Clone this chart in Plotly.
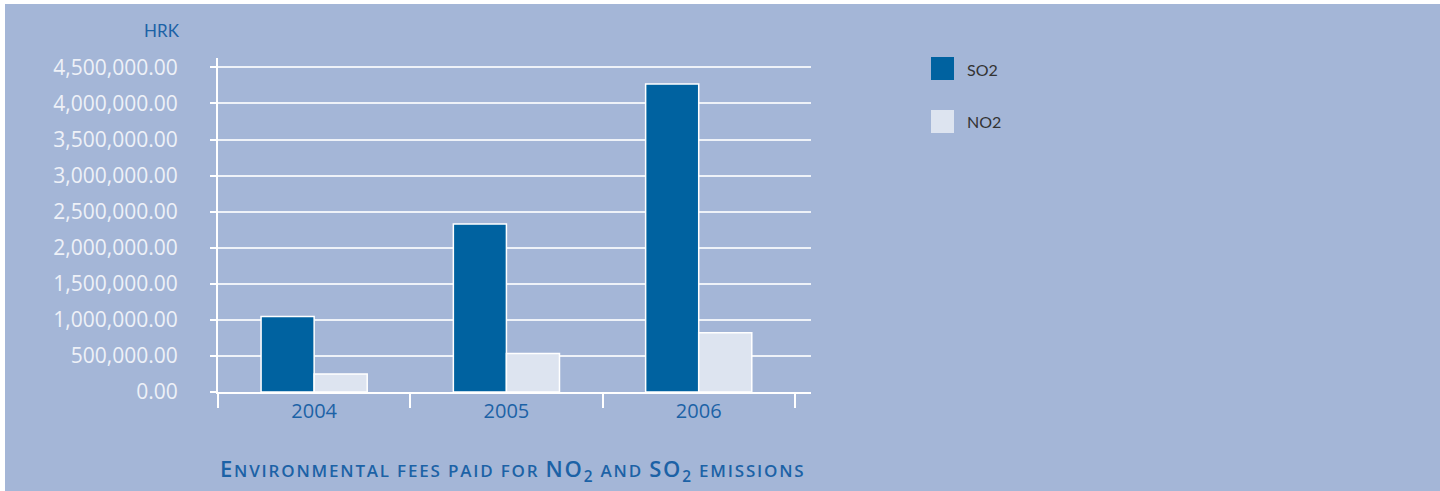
import plotly.graph_objects as go

years = ["2004", "2005", "2006"]
so2 = [1047000, 2330000, 4270000]
no2 = [250000, 535000, 820000]
series_names = ["SO2", "NO2"]
y_ticks = [0, 500000, 1000000, 1500000, 2000000, 2500000, 3000000, 3500000, 4000000, 4500000]

PANEL = "#a4b6d7"
SO2_C = "#0062a0"
NO2_C = "#dde4f0"
BLUE_TXT = "#1c62a6"
FONT = "Lato"
FONT2 = "Open Sans"

W, H = 1440, 491
L, R, T, B = 218, 1440 - 811, 58, 491 - 392
PW = W - L - R
PH = H - T - B

def px(x):
    return (x - L) / PW

def py(y):
    return (H - B - y) / PH

fig = go.Figure()
fig.add_trace(go.Bar(x=years, y=so2, name=series_names[0], marker=dict(color=SO2_C, line=dict(color="white", width=1.5))))
fig.add_trace(go.Bar(x=years, y=no2, name=series_names[1], marker=dict(color=NO2_C, line=dict(color="white", width=1.5))))

shapes = [
    dict(type="rect", xref="paper", yref="paper", x0=px(-10), x1=px(W + 10), y0=py(-10), y1=py(4),
         fillcolor="white", line=dict(width=0), layer="below"),
    dict(type="rect", xref="paper", yref="paper", x0=px(-10), x1=px(5), y0=py(-10), y1=py(H + 10),
         fillcolor="white", line=dict(width=0), layer="below"),
]
annotations = []
legend_items = [(series_names[0], SO2_C, 57), (series_names[1], NO2_C, 110)]
for name, col, top in legend_items:
    shapes.append(dict(type="rect", xref="paper", yref="paper", x0=px(931), x1=px(954), y0=py(top + 23), y1=py(top),
                       fillcolor=col, line=dict(width=0)))
    annotations.append(dict(xref="paper", yref="paper", x=px(965), y=py(top + 12), text=name, showarrow=False,
                            xanchor="left", yanchor="middle", font=dict(family=FONT, size=16, color="#333333")))

annotations.append(dict(xref="paper", yref="paper", x=px(182), y=py(30), text="HRK", showarrow=False,
                        xanchor="right", yanchor="middle", font=dict(family=FONT, size=17, color=BLUE_TXT)))

big, small = 22, 17
sp = "letter-spacing:1.8px"
title = (f'<span style="font-size:{big}px;{sp}">E</span><span style="font-size:{small}px;{sp}">NVIRONMENTAL FEES PAID FOR </span>'
         f'<span style="font-size:{big}px;{sp}">NO<sub>2</sub></span><span style="font-size:{small}px;{sp}"> AND </span>'
         f'<span style="font-size:{big}px;{sp}">SO<sub>2</sub></span><span style="font-size:{small}px;{sp}"> EMISSIONS</span>')
annotations.append(dict(xref="paper", yref="paper", x=px(513), y=py(470), text=title, showarrow=False,
                        xanchor="center", yanchor="middle",
                        font=dict(family=FONT2, size=small, color=BLUE_TXT, weight=600)))

fig.update_layout(
    width=W, height=H,
    margin=dict(l=L, r=R, t=T, b=B, pad=0),
    paper_bgcolor=PANEL, plot_bgcolor=PANEL,
    barmode="group", bargap=0.448, bargroupgap=0,
    showlegend=False,
    shapes=shapes, annotations=annotations,
    xaxis=dict(type="category", range=[-0.5, 2.584], tickson="boundaries", ticks="outside", ticklen=14,
               tickwidth=2, tickcolor="white", showline=True, linecolor="white", linewidth=2,
               showgrid=False, tickfont=dict(family=FONT2, size=20, color=BLUE_TXT)),
    yaxis=dict(range=[0, 4630000], tickvals=y_ticks, tickformat=",.2f", ticks="outside", ticklen=6,
               tickwidth=2, tickcolor="white", showline=True, linecolor="white", linewidth=2,
               showgrid=True, gridcolor="#eef2f8", gridwidth=1.5, zeroline=False,
               ticklabelstandoff=28, tickfont=dict(family=FONT2, size=21, color="#eef1f7")),
)

fig.write_html("out.html")
